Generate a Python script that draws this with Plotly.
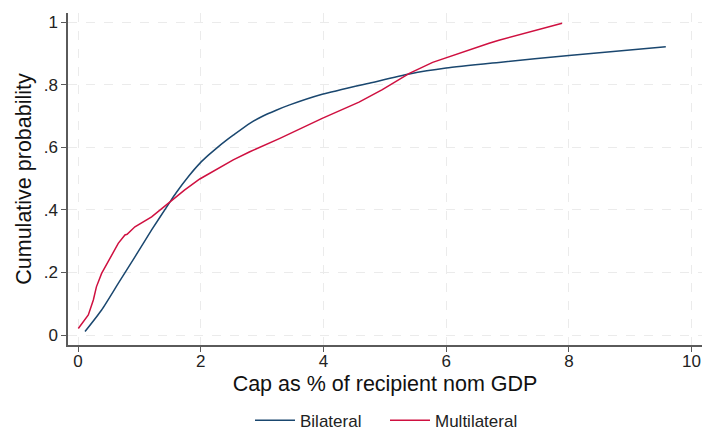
import plotly.graph_objects as go

# Empirical CDFs of the cap, as % of recipient nominal GDP
bilateral_x = [0.114, 0.385, 0.656, 0.928, 1.20, 1.50, 1.60, 1.80, 1.985, 2.13, 2.26, 2.40,
               2.53, 2.80, 3.00, 3.23, 3.45, 3.98, 4.80, 5.40, 6.00, 6.86, 8.00, 9.58]
bilateral_y = [0.011, 0.08, 0.165, 0.25, 0.336, 0.426, 0.455, 0.507, 0.549, 0.576, 0.598,
               0.62, 0.639, 0.677, 0.699, 0.719, 0.736, 0.77, 0.808, 0.835, 0.854, 0.872,
               0.894, 0.922]

multilateral_x = [0.005, 0.168, 0.25, 0.30, 0.385, 0.548, 0.656, 0.765, 0.80, 0.928, 1.20, 1.50,
                  1.74, 1.985, 2.26, 2.53, 2.80, 3.29, 3.98, 4.58, 4.96, 5.40, 5.78, 6.05,
                  6.32, 6.70, 6.86, 7.89]
multilateral_y = [0.021, 0.064, 0.112, 0.154, 0.197, 0.256, 0.293, 0.32, 0.322, 0.346, 0.378,
                  0.426, 0.464, 0.499, 0.53, 0.56, 0.586, 0.629, 0.693, 0.745, 0.785, 0.837,
                  0.872, 0.89, 0.91, 0.933, 0.943, 0.997]

x_ticks = [0, 2, 4, 6, 8, 10]
y_ticks = [0, 0.2, 0.4, 0.6, 0.8, 1]
y_tick_text = ["0", ".2", ".4", ".6", ".8", "1"]

NAVY = "#1a476f"
CRIMSON = "#cf1040"
FONT = "Liberation Sans, Arial, sans-serif"

fig = go.Figure()
fig.add_trace(go.Scatter(x=bilateral_x, y=bilateral_y, mode="lines", name="Bilateral",
                         line=dict(color=NAVY, width=1.5, shape="spline", smoothing=0.6)))
fig.add_trace(go.Scatter(x=multilateral_x, y=multilateral_y, mode="lines", name="Multilateral",
                         line=dict(color=CRIMSON, width=1.5)))

grid = dict(showgrid=True, gridcolor="#ebebeb", gridwidth=1.2, griddash="dash")
fig.update_xaxes(range=[-0.163, 10.17], tickvals=x_ticks, zeroline=False,
                 showline=True, linecolor="#5a5a5a", linewidth=1.5,
                 ticks="outside", ticklen=5, tickcolor="#5a5a5a",
                 tickfont=dict(size=17, color="#222"), ticklabelstandoff=-5,
                 title=dict(text="Cap as % of recipient nom GDP", font=dict(size=21.5, color="#111"),
                            standoff=6),
                 **grid)
fig.update_yaxes(range=[-0.032, 1.03], tickvals=y_ticks, ticktext=y_tick_text, zeroline=False,
                 showline=True, linecolor="#5a5a5a", linewidth=1.5,
                 ticks="outside", ticklen=5, tickcolor="#5a5a5a",
                 tickfont=dict(size=17, color="#222"),
                 title=dict(text="Cumulative probability", font=dict(size=21.5, color="#111"),
                            standoff=6),
                 **grid)

fig.update_layout(
    width=704, height=431,
    margin=dict(l=68, r=2, t=13, b=86, autoexpand=False),
    plot_bgcolor="white", paper_bgcolor="white",
    font=dict(family=FONT),
    legend=dict(orientation="h", x=0.5, xanchor="center", y=-0.228, yanchor="middle",
                font=dict(size=17, color="#222"), itemwidth=40, traceorder="normal",
                entrywidth=80, entrywidthmode="pixels"),
)

fig.write_html("out.html")
